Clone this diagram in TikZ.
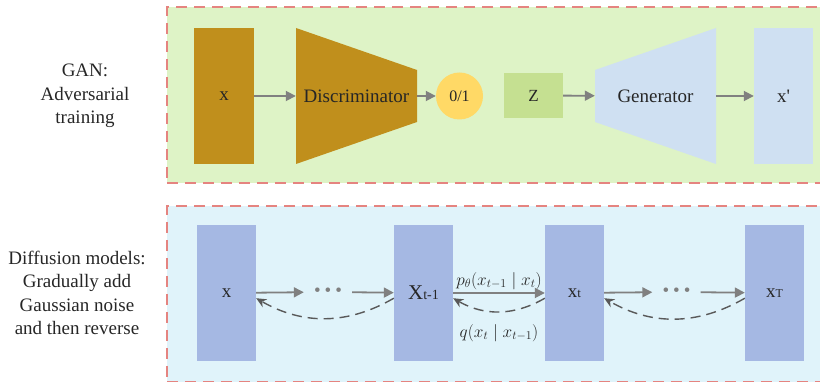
\documentclass[tikz,border=0pt]{standalone}
\usepackage{fontspec}
\setmainfont{Liberation Serif}
\usetikzlibrary{arrows.meta,positioning,calc}

\definecolor{ganbg}{RGB}{222,243,198}
\definecolor{difbg}{RGB}{224,243,250}
\definecolor{panelline}{RGB}{229,132,128}
\definecolor{gold}{RGB}{192,143,28}
\definecolor{sunny}{RGB}{255,217,102}
\definecolor{zgreen}{RGB}{197,224,145}
\definecolor{paleblue}{RGB}{207,224,242}
\definecolor{stepblue}{RGB}{165,184,227}
\definecolor{arrowgray}{RGB}{128,128,128}
\definecolor{dashgray}{RGB}{89,89,89}
\definecolor{ink}{RGB}{38,38,38}

\begin{document}
\begin{tikzpicture}[x=1pt,y=1pt,
  panel/.style={draw=panelline,line width=1.6pt,dash pattern=on 11pt off 7pt,minimum width=660pt,minimum height=176pt,anchor=north west,inner sep=0pt},
  blk/.style={minimum width=59pt,minimum height=136pt,inner sep=0pt,text=ink,font=\fontsize{19}{23}\selectfont},
  narrowin/.style={path picture={\fill[#1] (path picture bounding box.north west) -- ([yshift=-42pt]path picture bounding box.north east) -- ([yshift=42pt]path picture bounding box.south east) -- (path picture bounding box.south west) -- cycle;}},
  widenout/.style={path picture={\fill[#1] ([yshift=-42pt]path picture bounding box.north west) -- (path picture bounding box.north east) -- (path picture bounding box.south east) -- ([yshift=42pt]path picture bounding box.south west) -- cycle;}},
  dotsn/.style={minimum width=48pt,inner sep=0pt,text=arrowgray,font=\fontsize{19}{23}\selectfont},
  fwd/.style={-{Triangle[length=10pt,width=10pt]},draw=arrowgray,line width=1.8pt},
  back/.style={-{Stealth[length=10pt,width=9pt]},draw=dashgray,line width=1.4pt,dash pattern=on 10pt off 6pt},
  lbl/.style={align=center,text=ink,font=\fontsize{19}{23.5}\selectfont}]
  \useasboundingbox (0,0) rectangle (820,382);

  % panels
  \node[panel,fill=ganbg] (ganpanel) at (166,376) {};
  \node[panel,fill=difbg] (difpanel) at (166,177) {};

  % left labels
  \node[lbl] (ganlbl) at (85,286) {GAN:\\Adversarial\\training};
  \node[lbl] (diflbl) at (77,89) {Diffusion models:\\Gradually add\\Gaussian noise\\and then reverse};

  % GAN row
  \node[blk,minimum width=60pt,fill=gold] (gx) at (224,286) {x};
  \node[blk,minimum width=121pt,narrowin=gold] (disc) at (356.5,286) {Discriminator};
  \node[circle,fill=sunny,minimum size=47pt,inner sep=0pt,text=ink,font=\fontsize{16}{19}\selectfont] (verdict) at (459.5,286) {0/1};
  \node[blk,minimum height=45pt,fill=zgreen,font=\fontsize{17}{20}\selectfont] (z) at (533.5,286.5) {Z};
  \node[blk,minimum width=121pt,widenout=paleblue] (gen) at (655.5,286) {Generator};
  \node[blk,fill=paleblue] (gxp) at (783.5,286) {x\textquotesingle};
  \draw[fwd] (gx) -- (disc);
  \draw[fwd] (disc) -- (verdict);
  \draw[fwd] (z) -- (gen);
  \draw[fwd] (gen) -- (gxp);

  % diffusion row
  \node[blk,fill=stepblue] (x0) at (226.5,89) {x};
  \node[blk,fill=stepblue] (xm1) at (423.5,89) {{\fontsize{21}{23}\selectfont X}{\fontsize{14}{16}\selectfont t-1}};
  \node[blk,fill=stepblue] (xt) at (574.5,89) {x{\fontsize{13}{15}\selectfont t}};
  \node[blk,fill=stepblue] (xT) at (774.5,89) {x{\fontsize{12}{14}\selectfont T}};
  \node[dotsn] (dl) at (328,90) {\textbullet\hspace{4pt}\textbullet\hspace{4pt}\textbullet};
  \node[dotsn] (dr) at (676.5,90) {\textbullet\hspace{4pt}\textbullet\hspace{4pt}\textbullet};
  \draw[fwd] (x0) -- (dl);
  \draw[fwd] (dl) -- (xm1);
  \draw[fwd] (xm1) -- (xt);
  \draw[fwd] (xt) -- (dr);
  \draw[fwd] (dr) -- (xT);
  \draw[back] (xm1.190) to[out=210,in=330] (x0.-10);
  \draw[back] (xt.190) to[out=210,in=330] (xm1.-10);
  \draw[back] (xT.190) to[out=210,in=330] (xt.-10);
  \node[text=ink,font=\fontsize{17}{20}\selectfont] (plbl) at (499,101) {$p_\theta(x_{t-1}\mid x_t)$};
  \node[text=ink,font=\fontsize{17}{20}\selectfont] (qlbl) at (499,49) {$q(x_t\mid x_{t-1})$};
\end{tikzpicture}
\end{document}
